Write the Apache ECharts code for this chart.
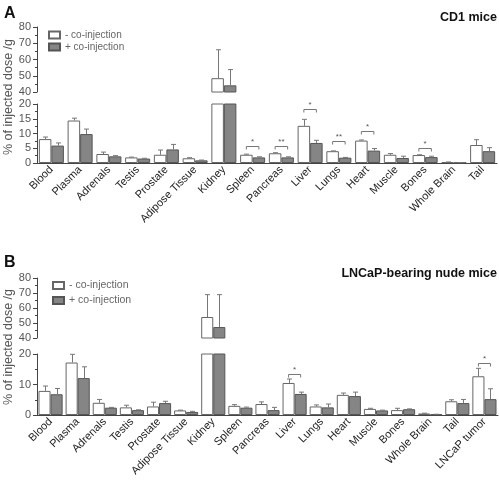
<!DOCTYPE html>
<html><head><meta charset="utf-8">
<script src="https://cdn.jsdelivr.net/npm/echarts@6/dist/echarts.min.js"></script>
<style>html,body{margin:0;padding:0;background:#fff}#c{width:499px;height:486px}</style>
</head><body><div id="c"></div>
<script>
const categoriesA = ['Blood','Plasma','Adrenals','Testis','Prostate','Adipose Tissue','Kidney','Spleen','Pancreas','Liver','Lungs','Heart','Muscle','Bones','Whole Brain','Tail'];
const whiteA    = [8.1, 14.4, 3.05, 1.9, 2.8, 1.6, 48.5, 2.8, 3.3, 12.6, 4.0, 7.6, 2.8, 2.7, 0.3, 6.1];
const whiteErrA = [8.8, 15.2, 3.7, 2.0, 4.4, 1.8, 66.0, 3.0, 3.5, 14.8, 4.1, 7.8, 3.2, 2.8, 0.35, 7.9];
const grayA     = [5.9, 9.8, 2.26, 1.5, 4.6, 0.9, 44.1, 1.9, 1.9, 6.8, 1.8, 4.2, 1.7, 2.0, 0.1, 4.0];
const grayErrA  = [6.8, 11.5, 2.5, 1.6, 6.3, 1.0, 53.8, 2.1, 2.1, 7.7, 1.9, 4.9, 2.3, 2.3, 0.15, 5.2];
const sigA = [[7, 5.9, '*'], [8, 5.9, '**'], [9, 18.4, '*'], [10, 7.4, '**'], [11, 10.7, '*'], [13, 5.1, '*']];

const categoriesB = ['Blood','Plasma','Adrenals','Testis','Prostate','Adipose Tissue','Kidney','Spleen','Pancreas','Liver','Lungs','Heart','Muscle','Bones','Whole Brain','Tail','LNCaP tumor'];
const whiteB    = [7.9, 17.2, 4.0, 2.5, 2.8, 1.5, 54.0, 3.0, 3.6, 10.5, 2.8, 6.6, 2.0, 1.6, 0.5, 4.5, 12.7];
const whiteErrB = [9.5, 19.9, 5.1, 3.2, 4.2, 1.6, 68.9, 3.4, 4.3, 11.8, 3.3, 7.2, 2.2, 2.2, 0.6, 5.0, 15.3];
const grayB     = [6.8, 12.1, 2.4, 1.6, 3.9, 1.0, 47.3, 2.4, 1.6, 6.9, 2.5, 6.2, 1.5, 1.9, 0.2, 3.9, 5.2];
const grayErrB  = [8.7, 15.8, 2.5, 1.7, 4.5, 1.2, 68.9, 2.6, 2.5, 7.5, 3.6, 7.5, 1.6, 2.0, 0.25, 5.1, 8.6];
const sigB = [[9, 13.6, '*'], [16, 16.9, '*']];

const upperTicks = [40, 50, 60, 70, 80];
const lowerTicksA = [0, 5, 10, 15, 20];
const lowerTicksB = [0, 10, 20];
const BREAK = 20;

const nameMinus = '- co-injection';
const namePlus = '+ co-injection';
const FONT = '"Liberation Sans", Arial, sans-serif';
const AX = '#444';

const chart = echarts.init(document.getElementById('c'), null, {renderer: 'canvas'});

function errRenderer(gap) {
  return function (params, api) {
    const cat = api.value(0), val = api.value(1), top = api.value(2), side = api.value(3);
    const band = api.size([1, 0])[0];
    const bw = band * (1 - gap) / 2;
    const c0 = api.coord([cat, val]);
    const c1 = api.coord([cat, top]);
    const x = Math.round(c0[0] + side * bw / 2) + 0.5;
    const st = {stroke: '#777', lineWidth: 1};
    return {type: 'group', children: [
      {type: 'line', shape: {x1: x, y1: c0[1], x2: x, y2: c1[1]}, style: st},
      {type: 'line', shape: {x1: x - 2.5, y1: c1[1], x2: x + 2.5, y2: c1[1]}, style: st}
    ]};
  };
}
function sigRenderer(gap, list) {
  return function (params, api) {
    const cat = api.value(0), lvl = api.value(1);
    const band = api.size([1, 0])[0];
    const bw = band * (1 - gap) / 2;
    const c = api.coord([cat, lvl]);
    const x1 = c[0] - bw / 2, x2 = c[0] + bw / 2, y = Math.round(c[1]) + 0.5;
    const st = {stroke: '#777', lineWidth: 1, fill: null};
    return {type: 'group', children: [
      {type: 'polyline', shape: {points: [[x1, y + 3], [x1, y], [x2, y], [x2, y + 3]]}, style: st},
      {type: 'text', x: c[0], y: y - 1, style: {text: list[params.dataIndex][2], fontSize: 8, fill: '#555', align: 'center', verticalAlign: 'bottom', fontFamily: FONT}}
    ]};
  };
}

function panel(cats, wv, we, gv, ge, sig, gapFrac, gridIdx) {
  const gapStr = (gapFrac * 100) + '%';
  const lowIdx = gridIdx, upIdx = gridIdx + 1;
  const upW = wv.map(v => v > BREAK ? v : '-');
  const upG = gv.map(v => v > BREAK ? v : '-');
  const errLow = [], errUp = [];
  wv.forEach((v, i) => (v > BREAK ? errUp : errLow).push([i, v, we[i], -1]));
  gv.forEach((v, i) => (v > BREAK ? errUp : errLow).push([i, v, ge[i], 1]));
  const wStyle = {color: '#ffffff', borderColor: '#666', borderWidth: 1};
  const gStyle = {color: '#858585', borderColor: '#555', borderWidth: 1};
  return [
    {type: 'bar', name: nameMinus, xAxisIndex: lowIdx, yAxisIndex: lowIdx, data: wv, itemStyle: wStyle, barGap: '0%', barCategoryGap: gapStr, clip: true, silent: true},
    {type: 'bar', name: namePlus, xAxisIndex: lowIdx, yAxisIndex: lowIdx, data: gv, itemStyle: gStyle, barGap: '0%', barCategoryGap: gapStr, clip: true, silent: true},
    {type: 'bar', name: nameMinus, xAxisIndex: upIdx, yAxisIndex: upIdx, data: upW, itemStyle: wStyle, barGap: '0%', barCategoryGap: gapStr, clip: true, silent: true},
    {type: 'bar', name: namePlus, xAxisIndex: upIdx, yAxisIndex: upIdx, data: upG, itemStyle: gStyle, barGap: '0%', barCategoryGap: gapStr, clip: true, silent: true},
    {type: 'custom', xAxisIndex: lowIdx, yAxisIndex: lowIdx, data: errLow, renderItem: errRenderer(gapFrac), z: 5, silent: true},
    {type: 'custom', xAxisIndex: upIdx, yAxisIndex: upIdx, data: errUp, renderItem: errRenderer(gapFrac), z: 5, silent: true},
    {type: 'custom', xAxisIndex: lowIdx, yAxisIndex: lowIdx, data: sig.map(s => [s[0], s[1]]), renderItem: sigRenderer(gapFrac, sig), z: 5, silent: true}
  ];
}

function xAxes(cats, lowGrid, upGrid) {
  return [
    {type: 'category', gridIndex: lowGrid, data: cats,
     axisLine: {lineStyle: {color: AX}}, axisTick: {alignWithLabel: true, length: 3, lineStyle: {color: AX}},
     axisLabel: {rotate: 45, fontSize: 11, color: '#222', fontFamily: FONT, margin: 5, interval: 0}},
    {type: 'category', gridIndex: upGrid, data: cats, show: false}
  ];
}
function yAxes(lowGrid, upGrid, lowTicks) {
  const common = {type: 'value', splitLine: {show: false},
    axisLine: {show: true, lineStyle: {color: AX}}, axisTick: {show: true, length: 4, lineStyle: {color: AX}},
    minorTick: {show: true, splitNumber: 2, length: 2, lineStyle: {color: AX}},
    axisLabel: {fontSize: 11, color: '#555', fontFamily: FONT, margin: 6}};
  return [
    Object.assign({}, common, {gridIndex: lowGrid, min: lowTicks[0], max: lowTicks[lowTicks.length - 1], interval: lowTicks[1] - lowTicks[0]}),
    Object.assign({}, common, {gridIndex: upGrid, min: upperTicks[0], max: upperTicks[upperTicks.length - 1], interval: upperTicks[1] - upperTicks[0]})
  ];
}

const option = {
  animation: false,
  backgroundColor: '#fff',
  textStyle: {fontFamily: FONT},
  grid: [
    {left: 37, right: 2, top: 104, height: 59},
    {left: 37, right: 2, top: 27, height: 65},
    {left: 37, right: 1, top: 354, height: 61},
    {left: 37, right: 1, top: 278, height: 60}
  ],
  xAxis: [].concat(xAxes(categoriesA, 0, 1), xAxes(categoriesB, 2, 3)),
  yAxis: [].concat(yAxes(0, 1, lowerTicksA), yAxes(2, 3, lowerTicksB)),
  legend: [
    {orient: 'vertical', left: 48, top: 30, itemWidth: 11, itemHeight: 7, itemGap: 2, icon: 'rect',
     data: [nameMinus, namePlus], textStyle: {fontSize: 10, color: '#666', fontFamily: FONT}, padding: 0, selectedMode: false},
    {orient: 'vertical', left: 52, top: 280, itemWidth: 11, itemHeight: 7, itemGap: 4, icon: 'rect',
     data: [nameMinus, namePlus], textStyle: {fontSize: 10.5, color: '#666', fontFamily: FONT}, padding: 0, selectedMode: false}
  ],
  graphic: [
    {type: 'text', left: 4, top: 6, style: {text: 'A', fontSize: 16, fontWeight: 'bold', fill: '#111', fontFamily: FONT}},
    {type: 'text', right: 2, top: 11, style: {text: 'CD1 mice', fontSize: 12.5, fontWeight: 'bold', fill: '#111', fontFamily: FONT}},
    {type: 'text', left: 4, top: 255, style: {text: 'B', fontSize: 16, fontWeight: 'bold', fill: '#111', fontFamily: FONT}},
    {type: 'text', right: 2, top: 267, style: {text: 'LNCaP-bearing nude mice', fontSize: 12.5, fontWeight: 'bold', fill: '#111', fontFamily: FONT}},
    {type: 'text', x: 2, y: 97, rotation: Math.PI / 2, style: {text: '% of injected dose /g', fontSize: 12.5, fill: '#555', fontFamily: FONT, align: 'center', verticalAlign: 'top'}},
    {type: 'text', x: 2, y: 347, rotation: Math.PI / 2, style: {text: '% of injected dose /g', fontSize: 12.5, fill: '#555', fontFamily: FONT, align: 'center', verticalAlign: 'top'}}
  ],
  series: [].concat(
    panel(categoriesA, whiteA, whiteErrA, grayA, grayErrA, sigA, 0.13, 0),
    panel(categoriesB, whiteB, whiteErrB, grayB, grayErrB, sigB, 0.11, 2)
  )
};
chart.setOption(option);
</script></body></html>
